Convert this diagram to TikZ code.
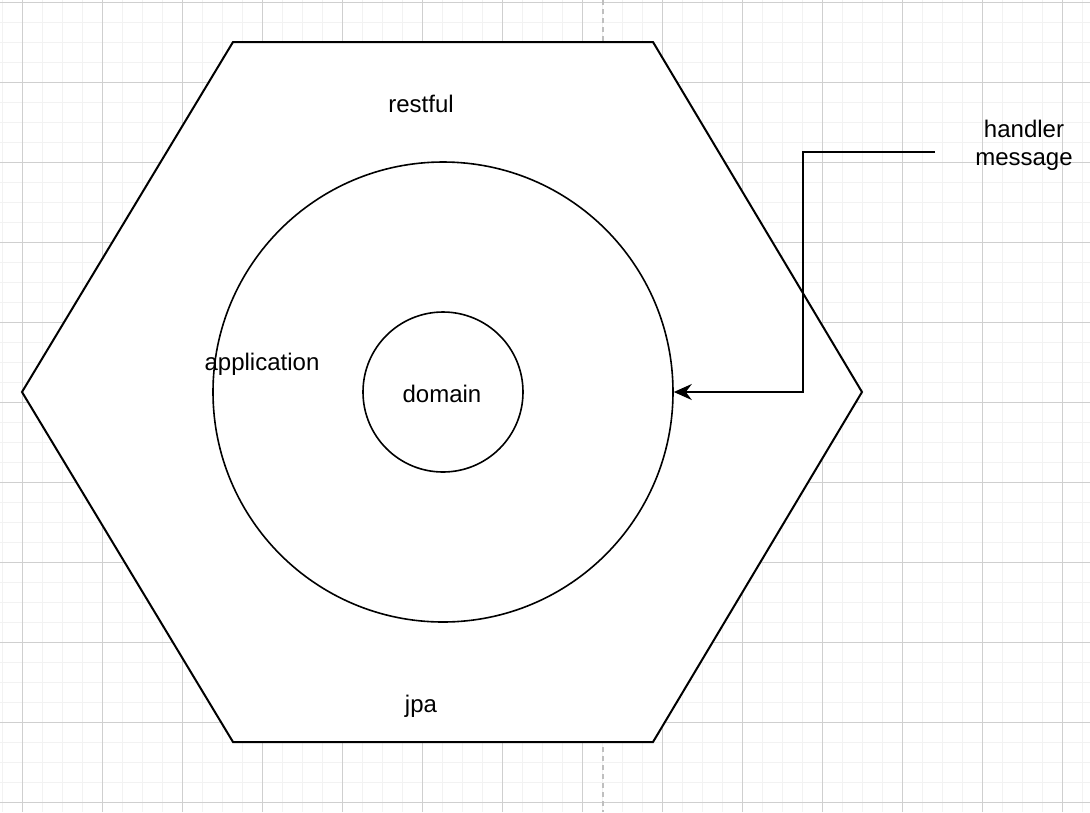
\documentclass[tikz,border=0pt]{standalone}
\usepackage{fontspec}
\setmainfont{Liberation Sans}
\usetikzlibrary{arrows.meta}
\tikzset{
  minorgrid/.style={draw=black!5, line width=1pt},
  majorgrid/.style={draw=black!19, line width=1pt},
  guide/.style={draw=black!25, line width=1.5pt, dash pattern=on 5pt off 4pt},
  shapeline/.style={draw=black, line width=2pt, fill=white, line join=miter},
  ring/.style={circle, draw=black, line width=1.6pt, fill=white, inner sep=0pt},
  lbl/.style={inner sep=0pt, font=\fontsize{24}{28}\selectfont},
  conn/.style={draw=black, line width=2pt, -{Stealth[length=18pt,width=16pt,inset=6pt]}}
}
\begin{document}
\begin{tikzpicture}[x=1pt,y=-1pt]
\useasboundingbox (0,0) rectangle (1090,812);
\fill[white] (0,0) rectangle (1090,812);
% grid
\foreach \x in {2,22,...,1090} \draw[minorgrid] (\x,0) -- (\x,812);
\foreach \y in {2,22,...,812} \draw[minorgrid] (0,\y) -- (1090,\y);
\foreach \x in {22,102,...,1090} \draw[majorgrid] (\x,0) -- (\x,812);
\foreach \y in {2,82,...,812} \draw[majorgrid] (0,\y) -- (1090,\y);
\draw[guide] (603,0) -- (603,812);
% hexagon
\draw[shapeline] (22,392) -- (233,42) -- (653,42) -- (862,392) -- (653,742) -- (233,742) -- cycle;
\node[lbl] (restful) at (421,104) {restful};
\node[lbl] (jpa) at (421,706) {jpa};
% circles
\node[ring, minimum size=460pt] (app) at (443,392) {};
\node[ring, minimum size=160pt] (dom) at (443,392) {};
\node[lbl] (applbl) at (262,364) {application};
\node[lbl] (domlbl) at (442,394) {domain};
% handler message
\node[lbl, align=center] (msg) at (1024,145) {handler\\message};
\coordinate (start) at (935,152);
\draw[conn] (start) -- (803,152) |- (app.east);
\end{tikzpicture}
\end{document}
